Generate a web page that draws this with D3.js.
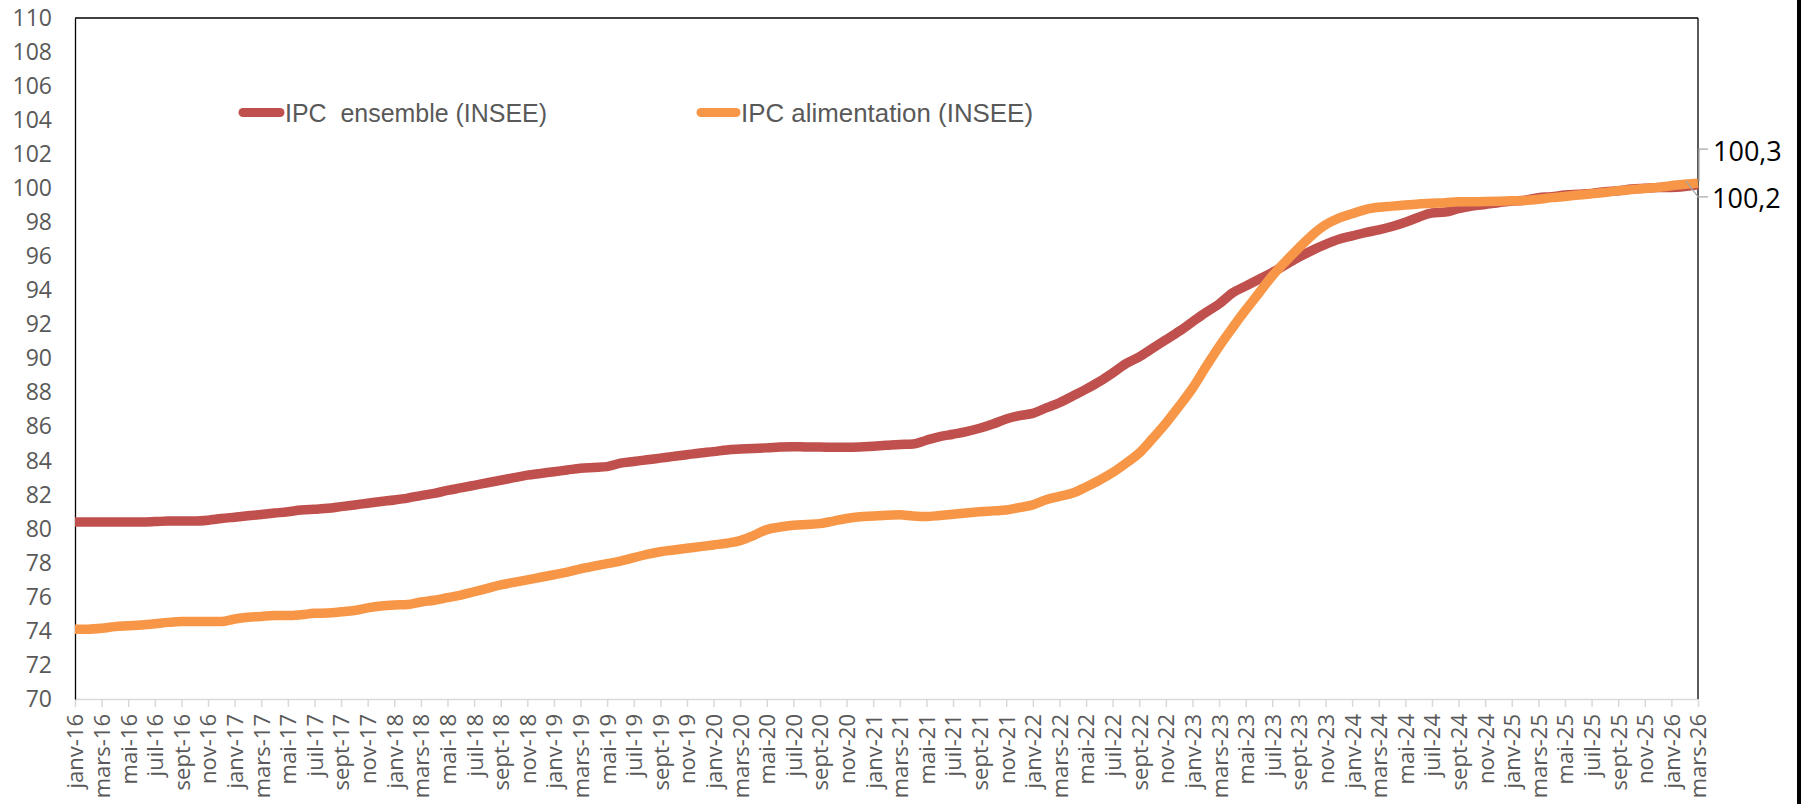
<!DOCTYPE html>
<html><head><meta charset="utf-8">
<script src="https://cdn.jsdelivr.net/npm/d3@7"></script>
<style>body{margin:0;background:#fff}svg{display:block}</style>
</head><body><svg id="c" width="1804" height="804"></svg>
<script>
// ---- data ----
const monthNames = ["janv","févr","mars","avr","mai","juin","juil","août","sept","oct","nov","déc"];
const years = [16,17,18,19,20,21,22,23,24,25,26];
const categories = [];
years.forEach(y => monthNames.forEach((m, k) => { if (!(y === 26 && k > 2)) categories.push(m + "-" + y); }));

const seriesNames = ["IPC  ensemble (INSEE)", "IPC alimentation (INSEE)"];
const ensemble = [
  80.4, 80.4, 80.4, 80.4, 80.4, 80.4, 80.42, 80.45, 80.45, 80.45, 80.5, 80.6,
  80.68, 80.76, 80.84, 80.92, 81.0, 81.1, 81.15, 81.2, 81.3, 81.4, 81.5, 81.6,
  81.69, 81.8, 81.95, 82.08, 82.25, 82.4, 82.55, 82.7, 82.85, 83.0, 83.15, 83.25,
  83.35, 83.45, 83.55, 83.6, 83.65, 83.85, 83.95, 84.05, 84.15, 84.25, 84.35, 84.45,
  84.53, 84.63, 84.68, 84.72, 84.75, 84.8, 84.82, 84.8, 84.8, 84.78, 84.78, 84.8,
  84.85, 84.9, 84.95, 84.98, 85.2, 85.41, 85.55, 85.7, 85.9, 86.15, 86.45, 86.65,
  86.78, 87.1, 87.4, 87.8, 88.2, 88.64, 89.15, 89.7, 90.1, 90.6, 91.1, 91.6,
  92.15, 92.7, 93.2, 93.85, 94.25, 94.65, 95.05, 95.5, 95.95, 96.35, 96.7, 97.0,
  97.2, 97.4, 97.55, 97.75, 98.0, 98.3, 98.55, 98.6, 98.8, 98.95, 99.05, 99.15,
  99.25, 99.3, 99.45, 99.5, 99.6, 99.65, 99.7, 99.8, 99.85, 99.95, 100.0, 100.05,
  100.05, 100.1, 100.2
];
const alimentation = [
  74.1, 74.1, 74.15, 74.25, 74.3, 74.35, 74.42, 74.5, 74.55, 74.55, 74.55, 74.55,
  74.7, 74.8, 74.85, 74.9, 74.9, 74.95, 75.03, 75.05, 75.12, 75.2, 75.35, 75.46,
  75.52, 75.55, 75.7, 75.8, 75.95, 76.1, 76.3, 76.5, 76.7, 76.85, 77.0, 77.15,
  77.3, 77.45, 77.64, 77.8, 77.95, 78.1, 78.3, 78.5, 78.65, 78.75, 78.85, 78.95,
  79.05, 79.15, 79.3, 79.6, 79.95, 80.1, 80.2, 80.25, 80.3, 80.45, 80.6, 80.7,
  80.75, 80.8, 80.82, 80.75, 80.72, 80.78, 80.85, 80.92, 81.0, 81.05, 81.1, 81.25,
  81.4, 81.7, 81.9, 82.1, 82.45, 82.85, 83.3, 83.85, 84.45, 85.3, 86.2, 87.2,
  88.25, 89.5, 90.7, 91.8, 92.85, 93.85, 94.85, 95.7, 96.5, 97.25, 97.85, 98.25,
  98.5, 98.75, 98.88, 98.95, 99.02, 99.08, 99.12, 99.15, 99.2, 99.21, 99.22, 99.24,
  99.26, 99.28, 99.35, 99.45, 99.52, 99.6, 99.68, 99.75, 99.85, 99.92, 99.99, 100.05,
  100.15, 100.23, 100.3
];
const yTicks = d3.range(70, 111, 2);
const endLabels = ["100,2", "100,3"]; // ensemble, alimentation
const colors = ["#c0504d", "#f79646"];

// ---- layout ----
const L = 75, R = 1698, T = 18, B = 699;
const svg = d3.select("#c");
svg.append("rect").attr("width", 1804).attr("height", 804).attr("fill", "#fff");

const x = d3.scalePoint().domain(categories).range([L, R]).padding(0);
const y = d3.scaleLinear().domain([70, 110]).range([B, T]);

// x axis
const xTickVals = categories.filter((c, i) => i % 2 === 0);
const gx = svg.append("g").attr("transform", `translate(0,${B})`)
  .call(d3.axisBottom(x).tickValues(xTickVals).tickSize(8).tickSizeOuter(0));
gx.select(".domain").attr("stroke", "#d9d9d9").attr("stroke-width", 1.5);
gx.selectAll(".tick line").attr("stroke", "#d9d9d9").attr("stroke-width", 1.5);
gx.selectAll(".tick text")
  .attr("transform", "rotate(-90)")
  .attr("x", -15).attr("y", 0).attr("dy", "0.36em")
  .attr("text-anchor", "end")
  .attr("font-family", "'Open Sans', sans-serif").attr("font-size", 22)
  .attr("fill", "#595959");

// y axis
const gy = svg.append("g").attr("transform", `translate(${L},0)`)
  .call(d3.axisLeft(y).tickValues(yTicks).tickSize(0).tickPadding(23).tickFormat(d3.format("d")));
gy.select(".domain").attr("stroke", "#000").attr("stroke-width", 1.3);
gy.selectAll(".tick text")
  .attr("font-family", "'Open Sans', sans-serif").attr("font-size", 23)
  .attr("fill", "#595959");

// top and right border
svg.append("line").attr("x1", L).attr("x2", R).attr("y1", T).attr("y2", T).attr("stroke", "#000").attr("stroke-width", 1.3);
svg.append("line").attr("x1", R).attr("x2", R).attr("y1", T).attr("y2", B).attr("stroke", "#000").attr("stroke-width", 1.3);

// lines
const line = d3.line().x((d, i) => x(categories[i])).y(d => y(d)).curve(d3.curveMonotoneX);
[ensemble, alimentation].forEach((s, k) => {
  svg.append("path").datum(s).attr("d", line)
    .attr("fill", "none").attr("stroke", colors[k]).attr("stroke-width", 9.5)
    .attr("stroke-linejoin", "round").attr("stroke-linecap", "butt");
});

// end labels with leader lines
const lastCat = categories[categories.length - 1];
const xe = x(lastCat);
const yA = y(alimentation[alimentation.length - 1]);
const yE = y(ensemble[ensemble.length - 1]);
const lead = svg.append("g").attr("fill", "none").attr("stroke", "#a6a6a6").attr("stroke-width", 1.3);
lead.append("path").attr("d", `M${xe + 10},${yA - 34} H${xe + 1} V${yA - 2}`);
lead.append("path").attr("d", `M${xe - 12},${yE - 4} L${xe},${yE + 12} H${xe + 10}`);
svg.append("text").attr("x", xe + 15).attr("y", yA - 32).attr("dy", "0.35em")
  .attr("font-family", "'Open Sans', sans-serif").attr("font-size", 27).attr("fill", "#000")
  .text(endLabels[1]);
svg.append("text").attr("x", xe + 14).attr("y", yE + 14).attr("dy", "0.35em")
  .attr("font-family", "'Open Sans', sans-serif").attr("font-size", 27).attr("fill", "#000")
  .text(endLabels[0]);

// legend
const legendPos = [{x: 239, w: 45, tw: 262}, {x: 697, w: 43, tw: 292}];
const ly = 112.5;
seriesNames.forEach((name, k) => {
  const p = legendPos[k];
  svg.append("line").attr("x1", p.x + 4).attr("x2", p.x + p.w - 4).attr("y1", ly).attr("y2", ly)
    .attr("stroke", colors[k]).attr("stroke-width", 9).attr("stroke-linecap", "round");
  svg.append("text").attr("x", p.x + p.w + 1).attr("y", ly).attr("dy", "0.35em")
    .attr("font-family", "'Liberation Sans Narrow', 'Liberation Sans', sans-serif")
    .attr("font-size", 26).attr("fill", "#595959")
    .attr("textLength", p.tw).attr("lengthAdjust", "spacingAndGlyphs")
    .style("white-space", "pre")
    .text(name);
});

// right frame bar
svg.append("rect").attr("x", 1797).attr("y", 0).attr("width", 4).attr("height", 804).attr("fill", "#000");
</script>
</body></html>
